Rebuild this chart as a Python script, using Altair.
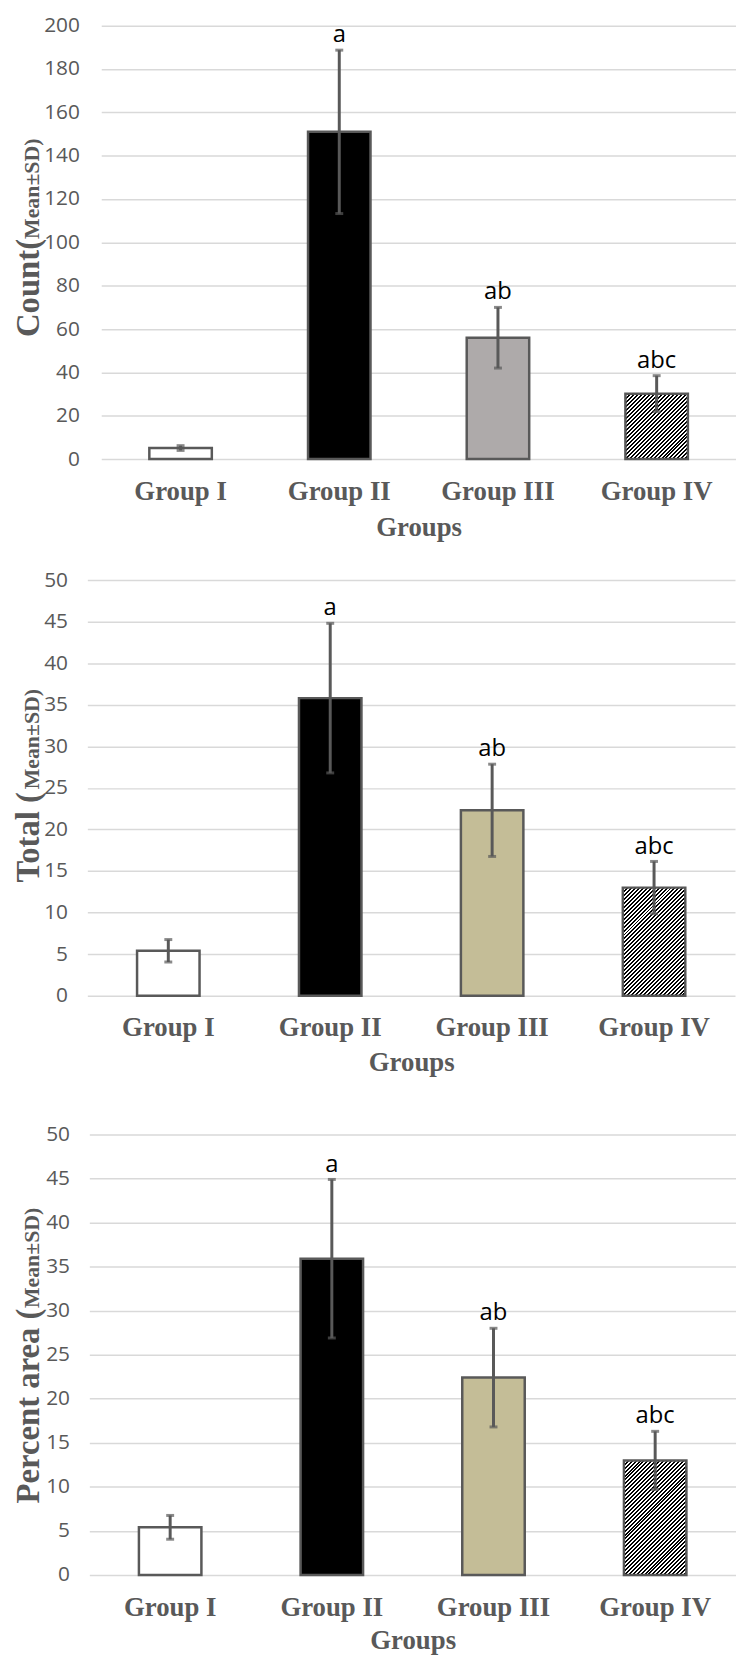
import altair as alt
import pandas as pd

groups = ["Group I", "Group II", "Group III", "Group IV"]
letters = ["", "a", "ab", "abc"]

count_mean = [5.1, 151.0, 56.0, 30.2]
count_sd = [1.1, 37.7, 14.0, 8.3]

total_mean = [5.4, 35.8, 22.3, 13.0]
total_sd = [1.35, 9.0, 5.55, 3.15]

area_mean = [5.4, 35.9, 22.4, 13.0]
area_sd = [1.35, 9.0, 5.6, 3.3]

fills_count = ["#FFFFFF", "#000000", "#AEAAAA"]
fills_other = ["#FFFFFF", "#000000", "#C4BD97"]

GREY = "#595959"
BAR_W = 63


def hatch(w, h, period=4.0):
    s = (w * w + h * h) / (w + h)
    n = max(1, round((w + h) / period))
    stops = []
    for k in range(n):
        a, b, c = k / n, (k + 0.5) / n, (k + 1) / n
        stops += [
            alt.GradientStop(offset=a, color="#000000"),
            alt.GradientStop(offset=b, color="#000000"),
            alt.GradientStop(offset=b, color="#FFFFFF"),
            alt.GradientStop(offset=c, color="#FFFFFF"),
        ]
    return alt.LinearGradient(gradient="linear", stops=stops, x1=0, y1=0, x2=w / s, y2=h / s)


def invisible_text(x, y):
    return alt.Chart(pd.DataFrame({"v": [0]})).mark_text(
        text=" ", fontSize=1, opacity=0, align="left"
    ).encode(x=alt.value(x), y=alt.value(y))


def panel(mean, sd, fills, ymax, ystep, W, H, big, small, fs_big, fs_small,
          tx, ty_bottom, ty_junction, left_ext, label_pad, title_pad, top_extra=None):
    df = pd.DataFrame({
        "group": groups,
        "mean": mean,
        "lo": [m - s for m, s in zip(mean, sd)],
        "hi": [m + s for m, s in zip(mean, sd)],
        "letter": letters,
    })
    yscale = alt.Scale(domain=[0, ymax], nice=False, zero=True)
    xenc = alt.X(
        "group:N", sort=groups,
        scale=alt.Scale(domain=groups, paddingInner=0, paddingOuter=0),
        axis=alt.Axis(labelAngle=0, labelFont="Liberation Serif", labelFontWeight="bold",
                      labelFontSize=27, labelColor=GREY, labelPadding=19.5,
                      domain=False, ticks=False, tickSize=0, grid=False,
                      title="Groups", titleFont="Liberation Serif", titleFontWeight="bold",
                      titleFontSize=27, titleColor=GREY, titlePadding=title_pad),
    )
    yenc = alt.Y(
        "mean:Q", scale=yscale, title=None,
        axis=alt.Axis(values=list(range(0, ymax + 1, ystep)), grid=True, gridColor="#D9D9D9",
                      gridWidth=1.5, domain=False, ticks=False, tickSize=0,
                      labelFont="Open Sans", labelFontSize=21, labelColor=GREY,
                      labelPadding=label_pad, title=None),
    )
    base = alt.Chart(df)
    solid = base.transform_filter(alt.datum.group != "Group IV").mark_bar(
        size=BAR_W, stroke=GREY, strokeWidth=2.5
    ).encode(
        x=xenc, y=yenc,
        fill=alt.Fill("group:N", scale=alt.Scale(domain=groups[:3], range=fills), legend=None),
    )
    h4 = mean[3] / ymax * H
    hatched = base.transform_filter(alt.datum.group == "Group IV").mark_bar(
        size=BAR_W, stroke=GREY, strokeWidth=2.5, fill=hatch(BAR_W, h4)
    ).encode(x=xenc, y=yenc)
    rule = base.mark_rule(color=GREY, strokeWidth=3).encode(
        x=xenc, y=alt.Y("lo:Q", scale=yscale, title=None), y2="hi:Q")
    cap_hi = base.mark_tick(color=GREY, size=8, thickness=3).encode(
        x=xenc, y=alt.Y("hi:Q", scale=yscale, title=None))
    cap_lo = base.mark_tick(color=GREY, size=8, thickness=3).encode(
        x=xenc, y=alt.Y("lo:Q", scale=yscale, title=None))
    text = base.transform_filter(alt.datum.letter != "").mark_text(
        font="Open Sans", fontSize=24, color="#000000", baseline="alphabetic", dy=-8
    ).encode(x=xenc, y=alt.Y("hi:Q", scale=yscale, title=None), text="letter:N")

    t_big = alt.Chart(pd.DataFrame({"t": [big]})).mark_text(
        angle=270, align="left", baseline="alphabetic", font="Liberation Serif",
        fontWeight="bold", fontSize=fs_big, color=GREY
    ).encode(x=alt.value(tx), y=alt.value(ty_bottom), text="t:N")
    t_small = alt.Chart(pd.DataFrame({"t": [small]})).mark_text(
        angle=270, align="left", baseline="alphabetic", font="Liberation Serif",
        fontWeight="bold", fontSize=fs_small, color=GREY
    ).encode(x=alt.value(tx), y=alt.value(ty_junction), text="t:N")

    layers = [solid, hatched, rule, cap_hi, cap_lo, text, t_big, t_small,
              invisible_text(-left_ext, H / 2)]
    if top_extra is not None:
        spacer_rule = alt.Chart(pd.DataFrame({"v": [0]})).mark_rule(
            strokeWidth=2, opacity=0, color="#FFFFFF"
        ).encode(x=alt.value(10), x2=alt.value(12), y=alt.value(-top_extra), y2=alt.value(-top_extra))
        layers.append(spacer_rule)
    return alt.layer(*layers).properties(width=W, height=H)


def spacer():
    return invisible_text(0, 0.5).properties(width=1, height=1)


p1 = panel(count_mean, count_sd, fills_count, 200, 20, 640, 437,
           "Count(", "Mean±SD)", 33, 22, -63, 314, 215, 93, 22, 10.5)
p2 = panel(total_mean, total_sd, fills_other, 50, 5, 653, 419,
           "Total (", "Mean±SD)", 33, 22, -49, 305, 211, 79, 20, 9)
p3 = panel(area_mean, area_sd, fills_other, 50, 5, 652, 444,
           "Percent area (", "Mean±SD)", 33, 22, -51, 372, 175, 81, 20, 7.5, top_extra=30)

rows = [alt.hconcat(spacer(), p, spacing=0) for p in (p1, p2, p3)]

chart = alt.vconcat(*rows, spacing=29).resolve_scale(fill="independent").properties(
    padding={"left": 0, "top": 0, "right": 0, "bottom": 0}, background="#FFFFFF"
).configure_view(stroke=None)

chart.save("out.html", embed_options={"renderer": "svg", "actions": False})
